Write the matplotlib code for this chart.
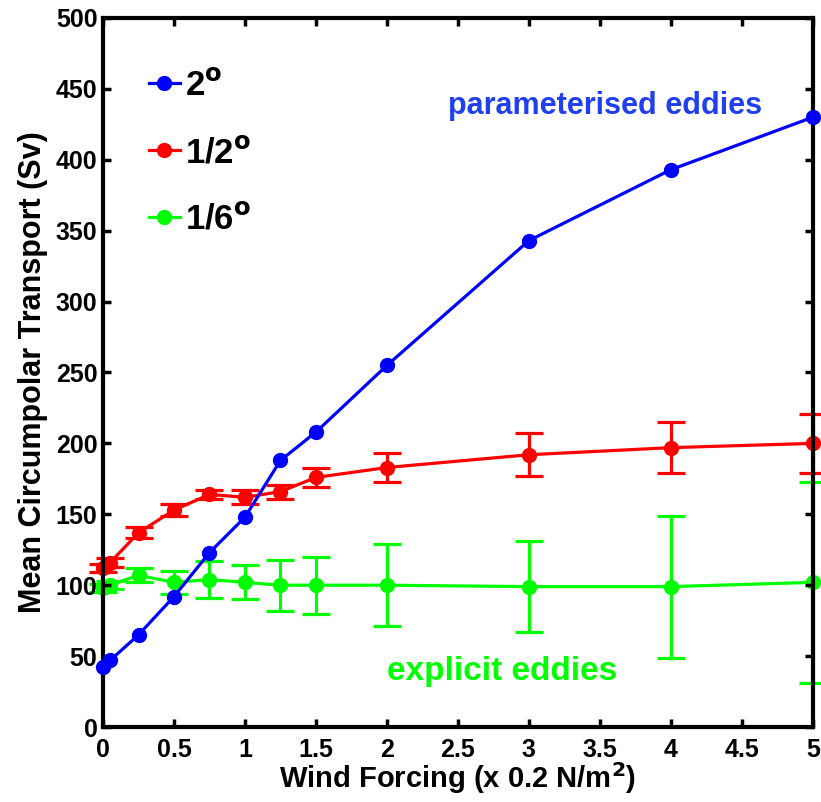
import matplotlib.pyplot as plt

# wind forcing (x 0.2 N/m^2)
wind = [0, 0.05, 0.25, 0.5, 0.75, 1, 1.25, 1.5, 2, 3, 4, 5]

# 2 degree runs (parameterised eddies)
coarse = [42, 47, 65, 92, 123, 148, 188, 208, 255, 343, 393, 430]

# 1/2 degree runs
mid = [112, 116, 137, 153, 164, 162, 166, 176, 183, 192, 197, 200]
mid_err = [3, 3, 4, 4, 3, 5, 5, 7, 10, 15, 18, 21]

# 1/6 degree runs (explicit eddies)
fine = [98, 100, 107, 102, 104, 102, 100, 100, 100, 99, 99, 102]
fine_err = [3, 3, 5, 8, 13, 12, 18, 20, 29, 32, 50, 71]

xticks = [0, 0.5, 1, 1.5, 2, 2.5, 3, 3.5, 4, 4.5, 5]
xticklabels = ["0", "0.5", "1", "1.5", "2", "2.5", "3", "3.5", "4", "4.5", "5"]
yticks = list(range(0, 501, 50))

BLUE = "#0000ff"
RED = "#ff0000"
GREEN = "#00ff00"

plt.rcParams["font.family"] = ["Liberation Sans", "DejaVu Sans"]
plt.rcParams["font.weight"] = "bold"
plt.rcParams["mathtext.default"] = "bf"

fig = plt.figure(figsize=(8.21, 8.02), dpi=100)
ax = fig.add_axes([0.1255, 0.0935, 0.8645, 0.8841])

lw = 2.3
ms = 10
series = [
    (coarse, None, BLUE, "2$^{o}$", 3),
    (mid, mid_err, RED, "1/2$^{o}$", 2),
    (fine, fine_err, GREEN, "1/6$^{o}$", 1),
]
for vals, err, col, name, z in series:
    ax.plot(wind, vals, "-o", color=col, lw=lw, ms=ms, clip_on=False,
            label=name, zorder=z)
    if err is not None:
        ax.errorbar(wind, vals, yerr=err, fmt="none", ecolor=col,
                    elinewidth=lw, capsize=10, capthick=lw, clip_on=False,
                    zorder=z)

ax.set_xlim(0, 5)
ax.set_ylim(0, 500)
ax.set_xticks(xticks)
ax.set_xticklabels(xticklabels)
ax.set_yticks(yticks)
ax.tick_params(axis="both", direction="in", length=6, width=2.5,
               labelsize=18, top=True, right=True)
ax.tick_params(axis="x", pad=8)
ax.tick_params(axis="y", pad=4)
for lab in ax.get_xticklabels() + ax.get_yticklabels():
    lab.set_fontweight("bold")
for sp in ax.spines.values():
    sp.set_linewidth(3)

ax.set_xlabel("Wind Forcing (x 0.2 N/m$^{2}$)", fontsize=21,
              fontweight="bold")
ax.set_ylabel("Mean Circumpolar Transport (Sv)", fontsize=22,
              fontweight="bold")
ax.xaxis.set_label_coords(0.5, -0.047)
ax.yaxis.set_label_coords(-0.078, 0.5)

ax.text(3.54, 438, "parameterised eddies", color="#1f3ff0", fontsize=22,
        fontweight="bold", ha="center", va="center")
ax.text(2.81, 39, "explicit eddies", color=GREEN, fontsize=24,
        fontweight="bold", ha="center", va="center")

ax.legend(loc="upper left", bbox_to_anchor=(0.045, 0.947), frameon=False,
          prop={"size": 25, "weight": "bold"}, handlelength=0.9,
          handletextpad=0.15, labelspacing=0.97, borderaxespad=0.0)

fig.savefig("out.png", dpi=100)
